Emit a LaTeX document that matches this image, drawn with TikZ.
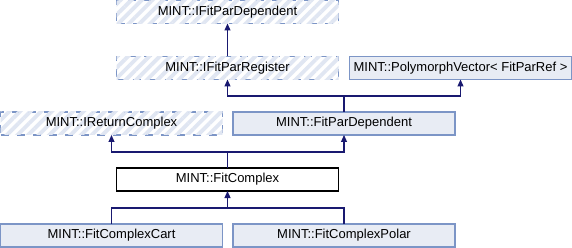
\documentclass[tikz,border=0pt]{standalone}
\usepackage{fontspec}
\setmainfont{Liberation Sans}
\usetikzlibrary{arrows.meta,patterns.meta}
\definecolor{boxline}{RGB}{124,149,198}
\definecolor{boxfill}{RGB}{232,236,244}
\definecolor{hatch}{RGB}{224,230,242}
\definecolor{edgecol}{RGB}{25,25,112}
\begin{document}
\begin{tikzpicture}[x=1pt,y=-1pt,
  cls/.style={minimum width=222pt,minimum height=23pt,inner sep=0pt,outer sep=0pt,
    font=\fontsize{13}{15}\selectfont},
  plain/.style={cls,draw=boxline,fill=boxfill,line width=1.1pt},
  current/.style={cls,draw=black,fill=white,line width=1.1pt},
  iface/.style={cls,draw=boxline,line width=1.1pt,dash pattern=on 8pt off 8pt,
    fill=white,postaction={pattern={Lines[angle=45,distance=7.5pt,line width=3.8pt]},pattern color=hatch}},
  link/.style={draw=edgecol,line width=1.1pt},
  inherit/.style={link,-{Triangle[length=7pt,width=6pt]}}]
  \fill[white] (0,0) rectangle (572,248);
  \useasboundingbox (0,0) rectangle (572,248);

  \node[iface]   (idep)  at (227.5,12)    {MINT::IFitParDependent};
  \node[iface]   (ireg)  at (227.5,68)    {MINT::IFitParRegister};
  \node[plain]   (poly)  at (460.5,68)    {MINT::PolymorphVector< FitParRef >};
  \node[iface]   (iret)  at (111.5,123.5) {MINT::IReturnComplex};
  \node[plain]   (fpd)   at (344,123.5)   {MINT::FitParDependent};
  \node[current] (fc)    at (227.5,179.5) {MINT::FitComplex};
  \node[plain]   (cart)  at (111.5,235.5) {MINT::FitComplexCart};
  \node[plain]   (polar) at (344,235.5)   {MINT::FitComplexPolar};

  % IFitParRegister derives from IFitParDependent
  \draw[inherit] (ireg.north) -- (idep.south);

  % FitParDependent derives from IFitParRegister and PolymorphVector
  \coordinate (j1) at (344,96);
  \draw[link] (fpd.north) -- (j1);
  \draw[inherit] (j1) -| (ireg.south);
  \draw[inherit] (j1) -| (poly.south);

  % FitComplex derives from IReturnComplex and FitParDependent
  \coordinate (j2) at (227.5,152);
  \draw[link] (fc.north) -- (j2);
  \draw[inherit] (j2) -| (iret.south);
  \draw[inherit] (j2) -| (fpd.south);

  % FitComplexCart and FitComplexPolar derive from FitComplex
  \coordinate (j3) at (227.5,208);
  \draw[link] (cart.north) |- (j3);
  \draw[link] (polar.north) |- (j3);
  \draw[inherit] (j3) -- (fc.south);
\end{tikzpicture}
\end{document}
